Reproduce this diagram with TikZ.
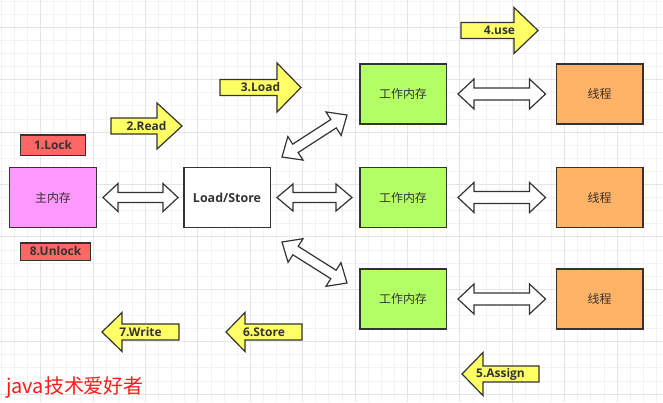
\documentclass[tikz,border=0pt]{standalone}
\usepackage{fontspec}
\newfontfamily\cjk{Noto Sans CJK SC}
\newfontfamily\lbl{Open Sans}
\usetikzlibrary{calc}
\definecolor{edge}{HTML}{333333}
\definecolor{txt}{HTML}{333333}
\definecolor{pinkf}{HTML}{FF99FF}
\definecolor{redf}{HTML}{FF6666}
\definecolor{greenf}{HTML}{B3FF66}
\definecolor{orangef}{HTML}{FFB366}
\definecolor{yelf}{HTML}{FFFF66}
\definecolor{gridminor}{HTML}{F2F2F2}
\definecolor{gridmajor}{HTML}{E5E5E5}
\definecolor{signred}{HTML}{FF1A1A}
\newcommand\yarrow[7]{%
  \draw[yarr] (#2,#5-8) -- (#4,#5-8) -- (#4,#5-#6) -- (#3,#5) -- (#4,#5+#6) -- (#4,#5+8) -- (#2,#5+8) -- cycle;
  \node[lab] (#1) at ({(#2+#3)/2},#5) {#7};}
\newcommand\dblarr[5]{%
  \draw[dbl] (#1) -- ($(#1)!#3!(#2)!#5!90:(#2)$) -- ($(#1)!#3!(#2)!#4!90:(#2)$)
    -- ($(#2)!#3!(#1)!#4!90:(#2)$) -- ($(#2)!#3!(#1)!#5!90:(#2)$) -- (#2)
    -- ($(#2)!#3!(#1)!#5!-90:(#2)$) -- ($(#2)!#3!(#1)!#4!-90:(#2)$)
    -- ($(#1)!#3!(#2)!#4!-90:(#2)$) -- ($(#1)!#3!(#2)!#5!-90:(#2)$) -- cycle;}
\begin{document}
\begin{tikzpicture}[x=1bp,y=-1bp,
  box/.style={draw=edge, line width=1.5bp, inner sep=0pt, minimum width=86.5bp, minimum height=60bp, font=\cjk\fontsize{12}{14}\selectfont, text=txt},
  tag/.style={draw=edge, line width=1.5bp, fill=redf, inner sep=0pt, font=\lbl\bfseries\fontsize{12}{13}\selectfont, text=txt},
  yarr/.style={draw=edge, line width=1.2bp, fill=yelf, line join=miter},
  dbl/.style={draw=edge, line width=1.2bp, fill=white, line join=miter},
  lab/.style={font=\lbl\bfseries\fontsize{12}{13}\selectfont, text=txt, inner sep=0pt}]
\useasboundingbox (0,0) rectangle (663,402);
\fill[white] (0,0) rectangle (663,402);
% grid
\foreach \k in {0,...,50} \draw[gridminor, line width=1bp] ({1.4+13.1*\k},0) -- ++(0,402);
\foreach \k in {0,...,30} \draw[gridminor, line width=1bp] (0,{1.1+13.1*\k}) -- ++(663,0);
\foreach \m in {0,...,11} \draw[gridmajor, line width=1bp] ({40.7+52.4*\m},0) -- ++(0,402);
\foreach \m in {0,...,7} \draw[gridmajor, line width=1bp] (0,{27.3+52.4*\m}) -- ++(663,0);
% boxes
\node[box, fill=pinkf] (main) at (53,197.5) {主内存};
\node[box, fill=white, font=\lbl\bfseries\fontsize{12.5}{13}\selectfont] (ls) at (227,197.5) {Load/Store};
\node[box, fill=greenf] (w1) at (403,94) {工作内存};
\node[box, fill=greenf] (w2) at (403,197.5) {工作内存};
\node[box, fill=greenf] (w3) at (403,299) {工作内存};
\node[box, fill=orangef] (t1) at (599.5,94) {线程};
\node[box, fill=orangef] (t2) at (599.5,197.5) {线程};
\node[box, fill=orangef] (t3) at (599.5,299) {线程};
\node[tag, minimum width=64.5bp, minimum height=20.5bp] (lock) at (53,145) {1.Lock};
\node[tag, minimum width=69.5bp, minimum height=17.5bp] (unlock) at (55.5,251.5) {8.Unlock};
% yellow arrows
\yarrow{read}{111}{182}{157}{126}{23}{2.Read}
\yarrow{load}{220}{301}{277}{87.5}{24.5}{3.Load}
\yarrow{use}{461}{538}{514}{30.5}{23}{4.use}
\yarrow{write}{179}{102}{122}{332}{19.5}{7.Write}
\yarrow{store}{302}{226}{245}{332}{19.5}{6.Store}
\yarrow{assign}{539}{462}{483}{374}{21.5}{5.Assign}
% double arrows
\coordinate (d1a) at ($(main.east)+(6,0)$);
\coordinate (d1b) at ($(ls.west)+(-5,0)$);
\coordinate (d2a) at ($(ls.east)+(6,0)$);
\coordinate (d2b) at ($(w2.west)+(-7,0)$);
\coordinate (d3a) at (282,157);
\coordinate (d3b) at (347,115);
\coordinate (d4a) at (282,242);
\coordinate (d4b) at (347,283);
\coordinate (e1a) at ($(w1.east)+(11,0)$);
\coordinate (e1b) at ($(t1.west)+(-10,0)$);
\coordinate (e2a) at ($(w2.east)+(11,0)$);
\coordinate (e2b) at ($(t2.west)+(-10,0)$);
\coordinate (e3a) at ($(w3.east)+(11,0)$);
\coordinate (e3b) at ($(t3.west)+(-10,0)$);
\dblarr{d1a}{d1b}{15bp}{5bp}{14bp}
\dblarr{d2a}{d2b}{16bp}{5bp}{13.5bp}
\dblarr{d3a}{d3b}{16bp}{5bp}{14bp}
\dblarr{d4a}{d4b}{16bp}{5bp}{14bp}
\dblarr{e1a}{e1b}{16bp}{6bp}{15bp}
\dblarr{e2a}{e2b}{16bp}{6bp}{15bp}
\dblarr{e3a}{e3b}{16bp}{6bp}{15bp}
% signature
\node[anchor=west, inner sep=0pt, text=signred, font=\cjk\fontsize{20}{22}\selectfont] (sig) at (6,388) {java技术爱好者};
\end{tikzpicture}
\end{document}
